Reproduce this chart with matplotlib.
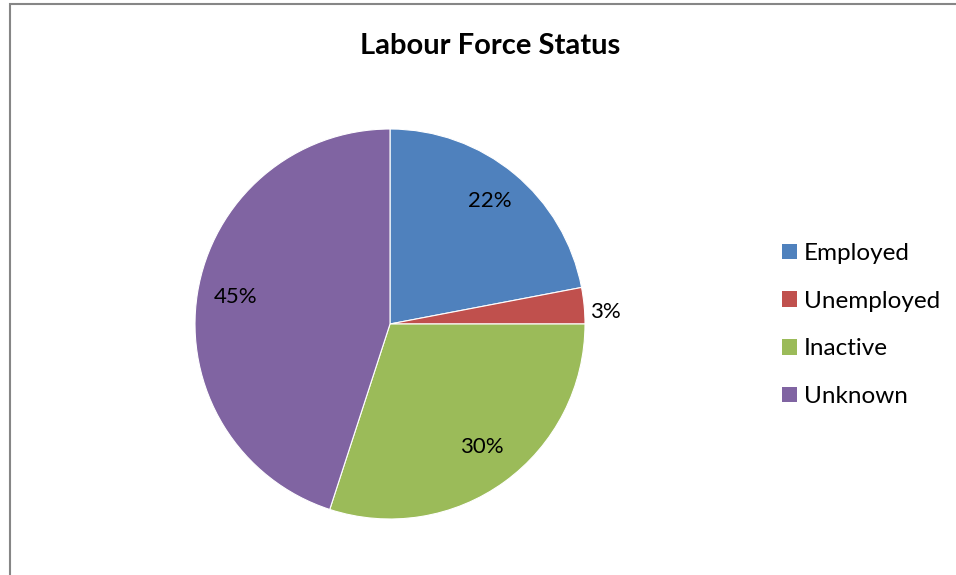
import numpy as np
import matplotlib
matplotlib.use("Agg")
import matplotlib.pyplot as plt
from matplotlib.patches import Rectangle, Patch

plt.rcParams['font.family'] = ['Lato', 'DejaVu Sans']

# data
categories = ["Employed", "Unemployed", "Inactive", "Unknown"]
shares = [22, 3, 30, 45]
colors = ["#4F81BD", "#C0504D", "#9BBB59", "#8064A2"]

W, H = 956, 575
fig = plt.figure(figsize=(W / 100, H / 100), dpi=100)

# outer chart frame (right and bottom edges are cut off in the original)
fig.patches.append(Rectangle((9.5 / W, -0.1), 1.2, 1.1 - 4.5 / H,
                             transform=fig.transFigure, fill=False,
                             edgecolor="#868686", linewidth=1.5))

cx, cy, r = 390, 324, 195
ax = fig.add_axes([(cx - r) / W, (H - cy - r) / H, 2 * r / W, 2 * r / H])
wedges, _ = ax.pie(shares, colors=colors, startangle=90, counterclock=False,
                   radius=1.0, wedgeprops=dict(linewidth=0.8, edgecolor="white"))
ax.set_xlim(-1, 1)
ax.set_ylim(-1, 1)
ax.set_aspect("equal")
ax.axis("off")

# percentage labels
for w, v in zip(wedges, shares):
    ang = np.deg2rad((w.theta1 + w.theta2) / 2)
    if v < 5:
        d = 1.03
        ax.text(d * np.cos(ang), d * np.sin(ang) - 0.035, f"{v}%", ha="left", va="center",
                fontsize=16, color="black")
    else:
        d = 0.8
        ax.text(d * np.cos(ang), d * np.sin(ang) + 0.015, f"{v}%", ha="center", va="center",
                fontsize=16, color="black")

fig.text(490 / W, 1 - 46 / H, "Labour Force Status", ha="center", va="center",
         fontsize=21, fontweight="bold")

handles = [Patch(facecolor=c, edgecolor="none") for c in colors]
fig.legend(handles, categories, loc="center left",
           bbox_to_anchor=(770 / W, 1 - 325 / H), frameon=False,
           fontsize=17.5, handlelength=0.6, handleheight=0.6,
           handletextpad=0.3, labelspacing=1.1, borderpad=0)

fig.savefig("out.png", dpi=100)
